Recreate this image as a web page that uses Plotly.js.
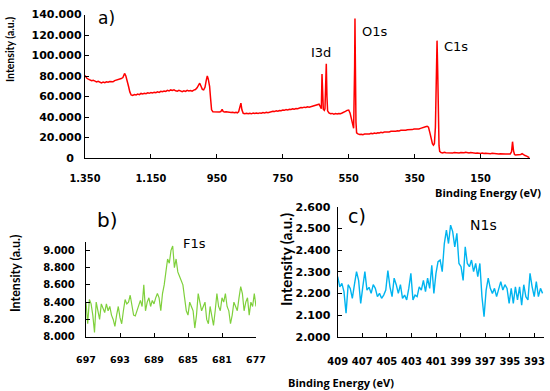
<!DOCTYPE html>
<html><head><meta charset="utf-8">
<script src="https://cdn.plot.ly/plotly-3.0.1.min.js"></script>
<style>html,body{margin:0;padding:0;background:#fff}#chart{width:550px;height:391px}</style>
</head><body><div id="chart"></div>
<script>
// ---- Survey spectrum (a) ----
const surveyEnergy = [1350,1345,1340,1335,1330,1325,1320,1315,1310,1305,1300,1295,1290,1285,1280,1275,1270,1265,1260,1255,1250,1245,1240,1235,1230,1226,1222,1218,1214,1210,1205,1200,1195,1190,1185,1180,1175,1170,1165,1160,1155,1150,1145,1140,1135,1130,1125,1120,1115,1110,1105,1100,1095,1090,1085,1080,1075,1070,1065,1060,1055,1050,1045,1040,1035,1030,1025,1020,1015,1010,1005,1002,998,994,990,986,982,979,976,972,969,966,962,957,952,947,942,938,934,931,927,922,917,912,907,902,897,892,888,884,880,877,874,870,865,860,855,850,845,840,835,830,825,820,815,810,805,800,795,790,785,780,775,770,765,760,755,750,745,740,735,730,725,720,715,710,705,700,695,690,685,680,675,670,665,660,655,650,645,640,636,633,631,629,627,624,622,620,618,616,614,610,605,600,595,590,585,580,575,570,565,560,555,550,546,542,538,535,532,531,530,528,526,522,517,512,507,502,497,492,487,482,477,472,467,462,457,452,447,442,437,432,427,422,417,412,407,402,397,392,387,382,377,372,367,362,357,352,347,342,337,332,327,322,317,312,308,304,300,296,293,290,287,284,282,280,278,276,274,270,265,260,255,250,245,240,235,230,225,220,215,210,205,200,195,190,185,180,175,170,165,160,155,150,145,140,135,130,125,120,115,110,105,100,95,90,85,80,75,70,65,60,56,53,50,47,44,40,36,32,28,24,20,15,10,5,2];
const surveyIntensity = [80500,78000,77000,76200,75500,75900,74800,74200,74900,73800,73300,74000,73500,74400,73900,74600,74800,74300,75500,76000,75800,76900,77500,78500,82500,80000,76000,70000,64500,61500,61000,62000,61500,62300,61800,63000,62500,63200,62800,63600,63100,63800,63400,64200,63700,64500,64000,65000,64600,65400,65000,66000,65500,66400,65800,66500,65500,65200,66000,65300,64800,65600,65000,66000,65400,65900,65200,66200,66800,68500,71500,73000,70000,67000,66500,69000,76000,80000,77000,70000,58000,47000,45200,45000,44700,45200,44800,45300,47500,45500,44800,45000,44600,44900,44400,44700,44200,44500,44100,45000,49000,53500,47000,43600,43300,43700,43200,43600,43100,43800,43400,43900,43500,44000,43700,44300,44000,44600,44200,44900,45200,45600,45300,46000,45700,46400,46100,46800,46500,47200,46900,47500,47300,47900,47600,48200,48000,48500,49300,49000,49600,49300,50000,49600,50200,50500,50900,51500,52000,52500,50000,48000,82000,60000,47500,46500,48000,70000,92000,60000,46000,44000,43200,43500,42800,43300,42900,43400,43200,43900,44500,45500,46500,46800,44000,38000,30500,29000,90000,136000,100000,35000,24500,23500,22900,23200,22800,23400,23200,23700,23400,24000,23700,24300,24000,24600,24400,25000,24700,25300,25100,25600,25400,26000,25800,26300,26100,26600,26400,27000,26800,27300,27100,27600,27400,27900,27700,28200,28000,28500,28300,28900,29200,29800,30500,31000,30000,25000,18000,14000,12500,14000,30000,80000,114500,85000,40000,12000,6500,5400,5000,5600,5200,5000,5500,5100,4800,5400,5100,5500,5000,5300,4900,5200,5600,5000,4800,5300,4900,5200,4700,4900,4600,4500,4900,4400,4700,4300,4500,4200,4600,4300,4100,4400,4000,4200,3900,4100,3800,4000,3600,3900,6000,15900,7000,3500,2900,3100,2700,2900,3500,4200,3000,2400,1800,1000,300];
const surveyXTicks = [1350,1150,950,750,550,350,150];
const surveyXTickText = ['1.350','1.150','950','750','550','350','150'];
const surveyYTicks = [0,20000,40000,60000,80000,100000,120000,140000];
const surveyYTickText = ['0\u2007','20.000','40.000','60.000','80.000','100.000','120.000','140.000'];

// ---- F1s (b) ----
const f1sStart = 697, f1sStep = -0.2;
const f1sIntensity = [8400,8150,8430,8380,8250,8050,
 8400,8300,8200,8380,8320,8280,8380,8300,8350,8250,
 8200,8120,8250,8350,8220,8150,8300,8430,8380,8400,
 8480,8350,8250,8240,8300,8380,8420,8350,8600,8300,
 8400,8450,8350,8420,8380,8450,8500,8450,8300,8500,
 8600,8750,8900,8850,9000,9050,8800,8900,8750,8700,
 8650,8600,8450,8300,8250,8400,8350,8300,8100,8250,
 8500,8400,8300,8350,8400,8200,8150,8350,8250,8130,
 8300,8500,8350,8300,8450,8400,8500,8350,8300,8150,
 8250,8400,8350,8300,8450,8580,8500,8300,8400,8450,
 8250,8400,8350,8500,8350];
const f1sXTicks = [697,693,689,685,681,677];
const f1sXTickText = ['697','693','689','685','681','677'];
const f1sYTicks = [8000,8200,8400,8600,8800,9000];
const f1sYTickText = ['8.000','8.200','8.400','8.600','8.800','9.000'];

// ---- N1s (c) ----
const n1sStart = 409, n1sStep = -0.17;
const n1sIntensity = [2277,2230,2246,2208,2108,2240,2223,2177,2240,2300,
 2260,2154,2230,2300,2215,2228,2200,2240,2223,2185,
 2200,2177,2192,2215,2305,2230,2185,2270,2240,2200,
 2240,2177,2192,2170,2223,2292,2170,2192,2185,2230,
 2215,2260,2208,2270,2223,2330,2200,2292,2346,2354,
 2300,2430,2492,2430,2515,2485,2415,2477,2338,2323,
 2260,2415,2338,2323,2354,2300,2338,2277,2338,2185,
 2092,2215,2270,2223,2200,2223,2185,2215,2254,2215,
 2240,2223,2154,2223,2154,2230,2170,2230,2146,2240,
 2185,2170,2292,2230,2185,2254,2185,2223,2200];
const n1sXTicks = [409,407,405,403,401,399,397,395,393];
const n1sXTickText = ['409','407','405','403','401','399','397','395','393'];
const n1sYTicks = [2000,2100,2200,2300,2400,2500,2600];
const n1sYTickText = ['2.000','2.100','2.200','2.300','2.400','2.500','2.600'];

const tickFont = (s) => ({family:'DejaVu Sans', size:s, color:'#000', weight:'bold'});
function axisBase(extra){
  return Object.assign({showline:true, linecolor:'#000', linewidth:1.2, ticks:'inside', ticklen:4,
    tickcolor:'#000', tickwidth:1, showgrid:false, zeroline:false, tickmode:'array', fixedrange:true}, extra);
}

const traces = [
  {x:surveyEnergy, y:surveyIntensity, type:'scatter', mode:'lines', line:{color:'#ff0000', width:1.5}, xaxis:'x', yaxis:'y', hoverinfo:'skip'},
  {y:f1sIntensity, x0:f1sStart, dx:f1sStep, type:'scatter', mode:'lines', line:{color:'#7fd03c', width:1.2}, xaxis:'x2', yaxis:'y2', hoverinfo:'skip'},
  {y:n1sIntensity, x0:n1sStart, dx:n1sStep, type:'scatter', mode:'lines', line:{color:'#00b4f0', width:1.4}, xaxis:'x3', yaxis:'y3', hoverinfo:'skip'}
];

const layout = {
  width:550, height:391, margin:{l:0,r:0,t:0,b:0}, showlegend:false,
  paper_bgcolor:'#fff', plot_bgcolor:'rgba(0,0,0,0)',
  xaxis: axisBase({domain:[85/550, 530/550], range:[1350,0], anchor:'y', tickvals:surveyXTicks, ticktext:surveyXTickText, tickfont:tickFont(9.8), ticklabelstandoff:11}),
  yaxis: axisBase({domain:[1-158/391, 1-14.5/391], range:[0,140000], anchor:'x', tickvals:surveyYTicks, ticktext:surveyYTickText, tickfont:tickFont(11), ticklabelstandoff:0}),
  xaxis2: axisBase({domain:[86/550, 256/550], range:[697,677], anchor:'y2', tickvals:f1sXTicks, ticktext:f1sXTickText, tickfont:tickFont(9.5), ticklabelstandoff:14}),
  yaxis2: axisBase({domain:[1-336.7/391, 1-241.7/391], range:[8000,9100], anchor:'x2', tickvals:f1sYTicks, ticktext:f1sYTickText, tickfont:tickFont(10), ticklabelstandoff:8}),
  xaxis3: axisBase({domain:[337.7/550, 544.3/550], range:[409,392.2], anchor:'y3', tickvals:n1sXTicks, ticktext:n1sXTickText, tickfont:tickFont(10), ticklabelstandoff:15}),
  yaxis3: axisBase({domain:[1-336.7/391, 1-206.7/391], range:[2000,2600], anchor:'x3', tickvals:n1sYTicks, ticktext:n1sYTickText, tickfont:tickFont(11), ticklabelstandoff:4}),
  annotations: []
};

function ann(text, x, y, font, extra){
  layout.annotations.push(Object.assign({text:text, x:x/550, y:1-y/391, xref:'paper', yref:'paper', showarrow:false,
    xanchor:'center', yanchor:'middle', font:font}, extra||{}));
}
const titleFont = (s) => ({family:'Lato', size:s, color:'#000', weight:'bold'});
const labFont = (s) => ({family:'DejaVu Sans', size:s, color:'#000'});
ann('Intensity (a.u.)', 10, 50, titleFont(10.5), {textangle:-90});
ann('Intensity (a.u.)', 15, 273, titleFont(12.5), {textangle:-90});
ann('Intensity (a.u.)', 286, 260, titleFont(15), {textangle:-90});
ann('Binding Energy (eV)', 488, 192, {family:'Open Sans', size:11, color:'#000', weight:'bold'});
ann('Binding Energy (eV)', 341, 382, {family:'Open Sans', size:11, color:'#000', weight:'bold'});
ann('a)', 106.7, 18, labFont(17));
ann('b)', 107.3, 220.3, labFont(20));
ann('c)', 357, 215.5, labFont(19));
ann('I3d', 321.3, 52, labFont(13));
ann('O1s', 375, 31, labFont(13));
ann('C1s', 455.5, 47, labFont(13));
ann('F1s', 194.7, 243.3, labFont(13));
ann('N1s', 483, 225.3, labFont(14));

Plotly.newPlot('chart', traces, layout, {staticPlot:true, displayModeBar:false});
</script>
</body></html>
